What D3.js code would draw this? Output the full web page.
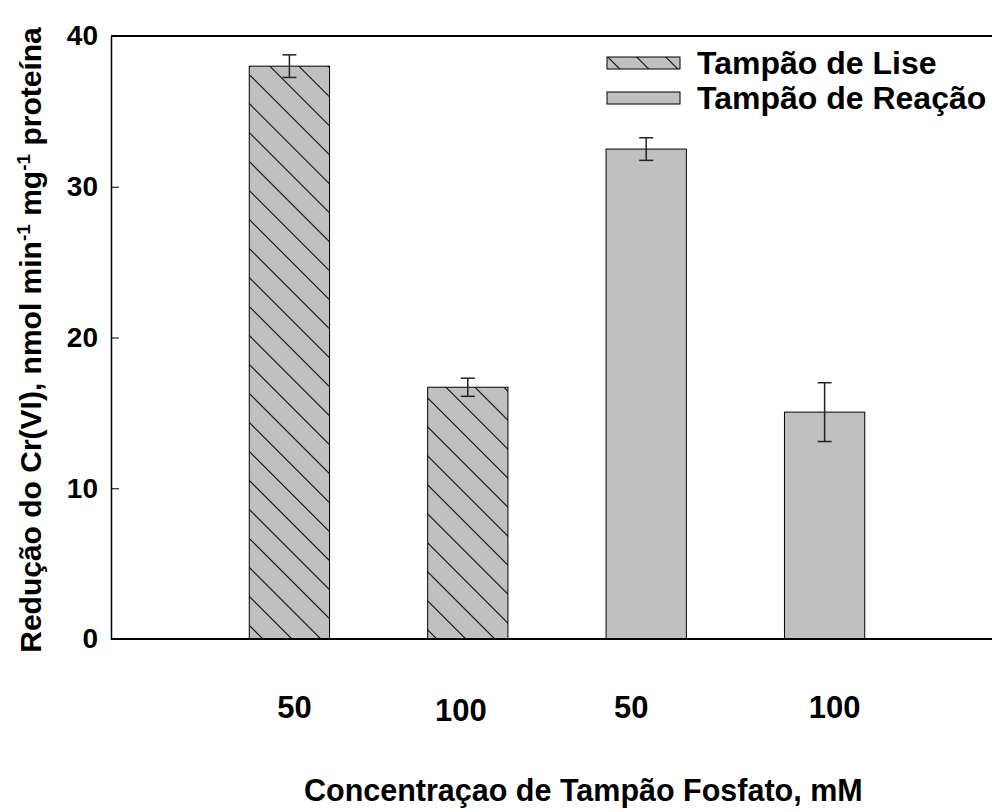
<!DOCTYPE html>
<html>
<head>
<meta charset="utf-8">
<script src="https://cdn.jsdelivr.net/npm/d3@7"></script>
<style>
  body { margin: 0; background: #fff; }
  text { font-family: "Liberation Sans", Arial, sans-serif; font-weight: bold; fill: #000; }
</style>
</head>
<body>
<div id="chart"></div>
<script>
// data
var categories = ["50", "100", "50", "100"]
var groups = ["Tampão de Lise", "Tampão de Lise", "Tampão de Reação", "Tampão de Reação"]
var values = [38.0, 16.7, 32.5, 15.05]
var errors = [0.75, 0.6, 0.75, 1.95]
var yTicks = [0, 10, 20, 30, 40]
var legendNames = ["Tampão de Lise", "Tampão de Reação"]

// hand placed x labels in the original are a bit off the bar centres
var labelNudge = [5, -7, -15, 10]
var labelDrop = [0, 3, 0, 0]

var width = 992, height = 812
var plotLeft = 111, plotTop = 36, plotBottom = 639

var svg = d3.select("#chart").append("svg")
    .attr("width", width)
    .attr("height", height)

var defs = svg.append("defs")
defs.append("pattern")
    .attr("id", "hatch")
    .attr("patternUnits", "userSpaceOnUse")
    .attr("width", 20.5)
    .attr("height", 20.5)
    .attr("patternTransform", "rotate(-45)")
    .call(function (p) {
        p.append("rect").attr("width", 20.5).attr("height", 20.5).attr("fill", "#c0c0c0")
        p.append("line").attr("x1", 0.5).attr("y1", 0).attr("x2", 0.5).attr("y2", 20.5)
            .attr("stroke", "#000").attr("stroke-width", 1.1)
    })

// x runs 0..5 like the original, right end falls off the picture
var x = d3.scaleLinear().domain([0, 5]).range([plotLeft, 1003])
var y = d3.scaleLinear().domain([0, 40]).range([plotBottom, plotTop])
var barW = x(0.45) - x(0)

function fillFor(g) {
    return g == legendNames[0] ? "url(#hatch)" : "#c0c0c0"
}

// bars
svg.selectAll("rect.bar")
    .data(values)
    .enter()
    .append("rect")
    .attr("class", "bar")
    .attr("x", function (d, i) { return x(i + 1) - barW / 2 })
    .attr("y", function (d) { return y(d) })
    .attr("width", barW)
    .attr("height", function (d) { return y(0) - y(d) })
    .attr("fill", function (d, i) { return fillFor(groups[i]) })
    .attr("stroke", "#000")
    .attr("stroke-width", 1)

// error bars
var err = svg.append("g").attr("stroke", "#222").attr("stroke-width", 1.5)
values.forEach(function (v, i) {
    var cx = x(i + 1)
    err.append("line").attr("x1", cx).attr("x2", cx)
        .attr("y1", y(v + errors[i])).attr("y2", y(v - errors[i]))
    err.append("line").attr("x1", cx - 7).attr("x2", cx + 7)
        .attr("y1", y(v + errors[i])).attr("y2", y(v + errors[i]))
    err.append("line").attr("x1", cx - 7).attr("x2", cx + 7)
        .attr("y1", y(v - errors[i])).attr("y2", y(v - errors[i]))
})

// frame: top and bottom lines
svg.append("line").attr("x1", plotLeft).attr("x2", width).attr("y1", plotTop).attr("y2", plotTop)
    .attr("stroke", "#000").attr("stroke-width", 2)
svg.append("line").attr("x1", plotLeft).attr("x2", width).attr("y1", plotBottom).attr("y2", plotBottom)
    .attr("stroke", "#000").attr("stroke-width", 2)

// y axis, ticks pointing in
var yAxis = d3.axisLeft(y).tickValues(yTicks).tickSize(-8).tickPadding(13).tickSizeOuter(0)
var gy = svg.append("g")
    .attr("transform", "translate(" + plotLeft + ",0)")
    .call(yAxis)
gy.select(".domain").attr("stroke", "#000").attr("stroke-width", 1.5)
gy.selectAll(".tick line").attr("stroke", "#000").attr("stroke-width", 1)
gy.selectAll(".tick text")
    .attr("x", -13)
    .style("font-size", "28px")
    .style("font-family", "'Liberation Sans', Arial, sans-serif")
    .style("font-weight", "bold")

// x category labels
svg.selectAll("text.xlab")
    .data(categories)
    .enter()
    .append("text")
    .attr("class", "xlab")
    .attr("x", function (d, i) { return x(i + 1) + labelNudge[i] })
    .attr("y", function (d, i) { return 718 + labelDrop[i] })
    .attr("text-anchor", "middle")
    .style("font-size", "31px")
    .text(function (d) { return d })

// axis titles
svg.append("text")
    .attr("x", 304)
    .attr("y", 801)
    .attr("text-anchor", "start")
    .style("font-size", "30.5px")
    .text("Concentraçao de Tampão Fosfato, mM")

var yt = svg.append("text")
    .attr("transform", "translate(41,340) rotate(-90)")
    .attr("text-anchor", "middle")
    .style("font-size", "30px")
yt.append("tspan").text("Redução do Cr(VI), nmol min")
yt.append("tspan").attr("dy", -11).style("font-size", "19px").text("-1")
yt.append("tspan").attr("dy", 11).text(" mg")
yt.append("tspan").attr("dy", -11).style("font-size", "19px").text("-1")
yt.append("tspan").attr("dy", 11).text(" proteína")

// legend
var leg = svg.selectAll("g.leg")
    .data(legendNames)
    .enter()
    .append("g")
    .attr("class", "leg")
    .attr("transform", function (d, i) { return "translate(607," + (57 + i * 35) + ")" })
leg.append("rect")
    .attr("width", 73)
    .attr("height", 12)
    .attr("fill", function (d) { return fillFor(d) })
    .attr("stroke", "#000")
    .attr("stroke-width", 1)
leg.append("text")
    .attr("x", 90)
    .attr("y", 17)
    .style("font-size", "32px")
    .text(function (d) { return d })
</script>
</body>
</html>
